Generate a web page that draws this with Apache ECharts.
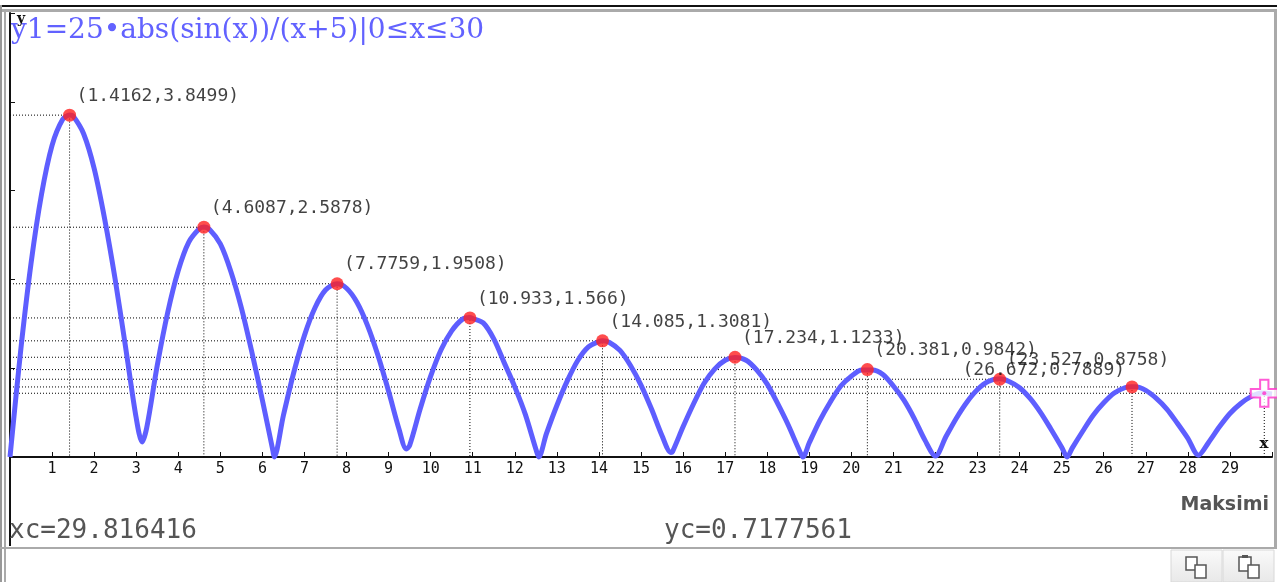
<!DOCTYPE html>
<html>
<head>
<meta charset="utf-8">
<script src="https://cdn.jsdelivr.net/npm/echarts@6/dist/echarts.min.js"></script>
<style>
  html, body { margin: 0; padding: 0; background: #fff; }
  #plot { width: 1277px; height: 582px; }
</style>
</head>
<body>
<div id="plot"></div>
<script>
// curve y1 = 25*abs(sin(x))/(x+5)
const curvePoints = [
  [0, 0], [0.25, 1.18], [0.5, 2.18], [0.75, 2.96], [1, 3.51], [1.25, 3.80], [1.4162, 3.85], [1.5, 3.84],
  [1.75, 3.64], [2, 3.25], [2.25, 2.68], [2.5, 2.00], [2.75, 1.23], [3, 0.44], [3.14, 0.17], [3.25, 0.33],
  [3.5, 1.03], [3.75, 1.63], [4, 2.10], [4.25, 2.42], [4.5, 2.57], [4.6087, 2.59], [4.75, 2.56], [5, 2.40],
  [5.25, 2.09], [5.5, 1.68], [5.75, 1.18], [6, 0.64], [6.25, 0.07], [6.28, 0], [6.5, 0.47], [6.75, 0.96],
  [7, 1.37], [7.25, 1.68], [7.5, 1.88], [7.7759, 1.95], [8, 1.90], [8.25, 1.74], [8.5, 1.48], [8.75, 1.14],
  [9, 0.74], [9.25, 0.31], [9.42, 0.09], [9.5, 0.13], [9.75, 0.54], [10, 0.91], [10.25, 1.21], [10.5, 1.42],
  [10.75, 1.55], [10.933, 1.57], [11, 1.56], [11.25, 1.51], [11.5, 1.33], [11.75, 1.06], [12, 0.79], [12.25, 0.48],
  [12.5, 0.09], [12.57, 0], [12.75, 0.26], [13, 0.58], [13.25, 0.86], [13.5, 1.09], [13.75, 1.24], [14, 1.30],
  [14.085, 1.31], [14.25, 1.29], [14.5, 1.20], [14.75, 1.03], [15, 0.81], [15.25, 0.54], [15.5, 0.24], [15.71, 0.05],
  [15.75, 0.06], [16, 0.34], [16.25, 0.60], [16.5, 0.83], [16.75, 0.99], [17, 1.09], [17.234, 1.12], [17.5, 1.09],
  [17.75, 0.98], [18, 0.82], [18.25, 0.60], [18.5, 0.36], [18.75, 0.09], [18.85, 0], [19, 0.16], [19.25, 0.41],
  [19.5, 0.62], [19.75, 0.80], [20, 0.91], [20.25, 0.98], [20.381, 0.98], [20.5, 0.98], [20.75, 0.93], [21, 0.80],
  [21.25, 0.64], [21.5, 0.43], [21.75, 0.19], [22, 0.01], [22.25, 0.23], [22.5, 0.44], [22.75, 0.62], [23, 0.76],
  [23.25, 0.85], [23.527, 0.88], [23.75, 0.85], [24, 0.78], [24.25, 0.66], [24.5, 0.50], [24.75, 0.31], [25, 0.11],
  [25.13, 0], [25.25, 0.10], [25.5, 0.29], [25.75, 0.47], [26, 0.61], [26.25, 0.72], [26.5, 0.78], [26.672, 0.79],
  [26.75, 0.79], [27, 0.75], [27.25, 0.66], [27.5, 0.54], [27.75, 0.38], [28, 0.21], [28.25, 0.02], [28.5, 0.17],
  [28.75, 0.34], [29, 0.49], [29.25, 0.60], [29.5, 0.68], [29.75, 0.72], [30, 0.71]
];

// maxima found by the calculator
const peakX = [1.4162, 4.6087, 7.7759, 10.933, 14.085, 17.234, 20.381, 23.527, 26.672];
const peakY = [3.8499, 2.5878, 1.9508, 1.566, 1.3081, 1.1233, 0.9842, 0.8758, 0.7889];

// trace cursor
const cursorX = 29.816416;
const cursorY = 0.7177561;

const titleText = 'y1=25\u2022abs(sin(x))/(x+5)|0\u2264x\u226430';
const xMin = 0, xMax = 30, yMin = 0, yMax = 5;

const chart = echarts.init(document.getElementById('plot'));

const dotted = { color: '#000', width: 1, type: [1, 2] };

// dotted guide lines: y-axis -> point -> x-axis
const guides = peakX.map((x, i) => ({
  type: 'line',
  data: [[0, peakY[i]], [x, peakY[i]], [x, 0]],
  symbol: 'none',
  silent: true,
  lineStyle: dotted,
  z: 1
}));
guides.push({
  type: 'line',
  data: [[0, cursorY], [cursorX, cursorY], [cursorX, 0]],
  symbol: 'none',
  silent: true,
  lineStyle: dotted,
  z: 1
});

const peakData = peakX.map((x, i) => {
  const item = { value: [x, peakY[i]] };
  // last label does not fit on the right, the calculator puts it to the left
  if (i === peakX.length - 1) item.label = { position: [-163, -10] };
  return item;
});

const crossPath = 'path://M9,0 H17 V9 H26 V17 H17 V26 H9 V17 H0 V9 H9 Z';

const option = {
  animation: false,
  backgroundColor: '#fff',
  grid: { left: 10, right: 5, top: 13, bottom: 125, containLabel: false },
  xAxis: {
    type: 'value',
    min: xMin,
    max: xMax,
    interval: 1,
    axisLine: { lineStyle: { color: '#111', width: 2 } },
    axisTick: { inside: true, length: 5, lineStyle: { color: '#111', width: 1 } },
    axisLabel: {
      margin: 5,
      color: '#111',
      fontFamily: 'DejaVu Sans Mono',
      fontSize: 15,
      formatter: v => (v === xMin || v === xMax) ? '' : String(v)
    },
    splitLine: { show: false }
  },
  yAxis: {
    type: 'value',
    min: yMin,
    max: yMax,
    interval: 1,
    axisLine: { show: true, lineStyle: { color: '#111', width: 2 } },
    axisTick: { show: true, inside: true, length: 5, lineStyle: { color: '#111', width: 1 } },
    axisLabel: { show: false },
    splitLine: { show: false }
  },
  series: [
    ...guides,
    {
      type: 'line',
      data: curvePoints,
      symbol: 'none',
      smooth: 0.3,
      clip: false,
      lineStyle: { color: '#5e5eff', width: 5 },
      z: 3
    },
    {
      type: 'scatter',
      data: peakData,
      symbol: 'circle',
      symbolSize: 13,
      itemStyle: { color: '#ff2020' },
      label: {
        show: true,
        position: [13.5, -12.5],
        align: 'left',
        verticalAlign: 'middle',
        color: '#111',
        fontFamily: 'DejaVu Sans Mono',
        fontSize: 18,
        formatter: p => '(' + p.value[0] + ',' + p.value[1] + ')'
      },
      z: 4
    },
    {
      type: 'scatter',
      data: [[cursorX, cursorY]],
      symbol: crossPath,
      symbolSize: 27,
      itemStyle: { color: '#fff', borderColor: '#ff33cc', borderWidth: 2 },
      z: 5
    },
    {
      type: 'scatter',
      data: [[cursorX, cursorY]],
      symbol: 'circle',
      symbolSize: 4,
      itemStyle: { color: '#ff33cc' },
      z: 6
    }
  ],
  graphic: [
    // window frame
    { type: 'rect', shape: { x: 0, y: 5, width: 1277, height: 2 }, style: { fill: '#111' }, silent: true },
    { type: 'rect', shape: { x: 0, y: 9, width: 1277, height: 3 }, style: { fill: '#aaa' }, silent: true },
    { type: 'rect', shape: { x: 1274, y: 9, width: 3, height: 540 }, style: { fill: '#aaa' }, silent: true },
    { type: 'rect', shape: { x: 0, y: 5, width: 2, height: 577 }, style: { fill: '#999' }, silent: true },
    { type: 'rect', shape: { x: 4, y: 9, width: 2, height: 573 }, style: { fill: '#aaa' }, silent: true },
    { type: 'rect', shape: { x: 9, y: 457, width: 2, height: 89 }, style: { fill: '#111' }, silent: true },
    { type: 'rect', shape: { x: 0, y: 547, width: 1277, height: 2 }, style: { fill: '#aaa' }, silent: true },
    // toolbar buttons
    { type: 'rect', shape: { x: 1171, y: 550, width: 51, height: 32 },
      style: { fill: new echarts.graphic.LinearGradient(0, 0, 0, 1, [{ offset: 0, color: '#fafafa' }, { offset: 1, color: '#e8e8e8' }]), stroke: '#d8d8d8' }, silent: true },
    { type: 'rect', shape: { x: 1223, y: 550, width: 51, height: 32 },
      style: { fill: new echarts.graphic.LinearGradient(0, 0, 0, 1, [{ offset: 0, color: '#fafafa' }, { offset: 1, color: '#e8e8e8' }]), stroke: '#d8d8d8' }, silent: true },
    { type: 'rect', shape: { x: 1186, y: 557, width: 11, height: 13 }, style: { fill: '#fff', stroke: '#555', lineWidth: 1.5 }, silent: true },
    { type: 'rect', shape: { x: 1195, y: 565, width: 11, height: 13 }, style: { fill: '#fff', stroke: '#555', lineWidth: 1.5 }, silent: true },
    { type: 'rect', shape: { x: 1239, y: 557, width: 12, height: 14 }, style: { fill: '#fff', stroke: '#555', lineWidth: 1.5 }, silent: true },
    { type: 'rect', shape: { x: 1242, y: 555, width: 6, height: 3 }, style: { fill: '#555' }, silent: true },
    { type: 'rect', shape: { x: 1248, y: 565, width: 11, height: 13 }, style: { fill: '#fff', stroke: '#555', lineWidth: 1.5 }, silent: true },
    // texts
    { type: 'text', x: 11, y: 31, style: { text: titleText, fill: '#6262ff', font: '28px "DejaVu Serif"', textVerticalAlign: 'middle', verticalAlign: 'middle' }, silent: true },
    { type: 'text', x: 17, y: 19, style: { text: 'y', fill: '#111', font: 'bold 14px "DejaVu Serif"', textVerticalAlign: 'middle', verticalAlign: 'middle' }, silent: true },
    { type: 'text', x: 1264, y: 444, style: { text: 'x', fill: '#111', font: 'bold 15px "DejaVu Serif"', textAlign: 'center', align: 'center', textVerticalAlign: 'middle', verticalAlign: 'middle' }, silent: true },
    { type: 'text', x: 1269, y: 505, style: { text: 'Maksimi', fill: '#555', font: 'bold 19px "DejaVu Sans"', textAlign: 'right', align: 'right', textVerticalAlign: 'middle', verticalAlign: 'middle' }, silent: true },
    { type: 'text', x: 9, y: 531, style: { text: 'xc=' + cursorX, fill: '#555', font: '26px "DejaVu Sans Mono"', textVerticalAlign: 'middle', verticalAlign: 'middle' }, silent: true },
    { type: 'text', x: 664, y: 531, style: { text: 'yc=' + cursorY, fill: '#555', font: '26px "DejaVu Sans Mono"', textVerticalAlign: 'middle', verticalAlign: 'middle' }, silent: true }
  ]
};

chart.setOption(option);
</script>
</body>
</html>
